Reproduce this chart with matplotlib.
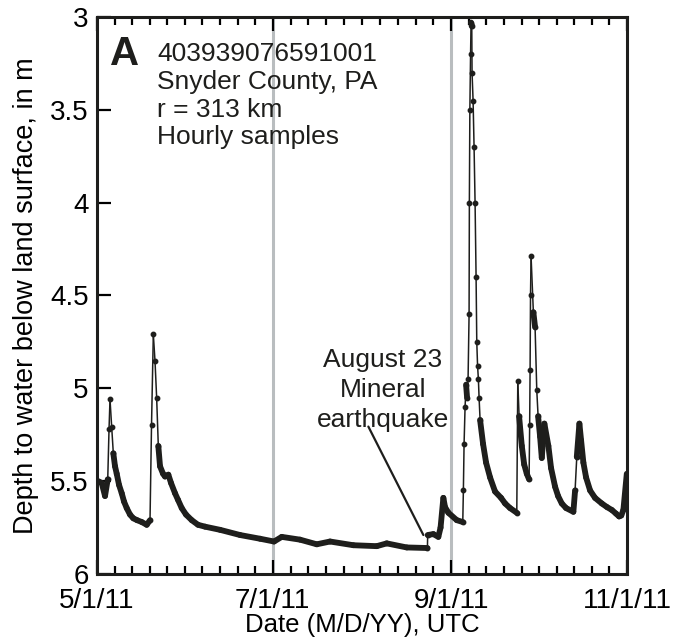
import numpy as np
import matplotlib
matplotlib.use("Agg")
import matplotlib.pyplot as plt
import matplotlib.dates as mdates
from matplotlib.collections import LineCollection
from datetime import datetime

plt.rcParams['font.family'] = ['Liberation Sans', 'DejaVu Sans']

# well 403939076591001, depth to water (m)
# time as days after 2011-05-01 00:00 UTC
day_offset = [
    0.45, 1.63, 2.78, 3.72, 4.17, 4.51, 5.10, 5.66, 6.25, 6.84,
    7.64, 8.58, 9.38, 10.31, 11.46, 12.60, 13.89, 15.52, 17.26, 18.40,
    18.92, 19.55, 20.14, 20.70, 21.28, 21.88, 22.92, 23.61, 24.76, 25.70,
    27.08, 28.10, 29.41, 30.90, 32.88, 35.07, 37.5, 42.7, 49.65, 56.6,
    61.46, 64.13, 70.49, 76.28, 80.90, 89.0, 97.12, 100.59, 107.53, 114.70,
    114.80, 116.77, 118.5, 119.27, 120.24, 120.83, 121.98, 124.9, 126.98, 127.19,
    127.43, 127.78, 128.13, 128.47, 128.82, 129.17, 129.27, 129.44, 129.69, 129.86,
    130.10, 130.20, 130.56, 130.90, 131.25, 131.60, 131.84, 132.12, 132.40, 132.64,
    132.99, 134.03, 135.07, 136.46, 138.19, 140.28, 141.67, 143.40, 145.73, 146.08,
    146.53, 147.47, 148.30, 149.2, 150.0, 150.2, 150.35, 150.5, 150.69, 151.49,
    152.08, 152.67, 153.13, 153.82, 154.41, 155.31, 156.7, 157.64, 159.03, 160.07,
    161.35, 162.85, 165.38, 165.97, 166.56, 167.47, 168.06, 168.85, 169.79, 171.18,
    172.90, 175.24, 177.08, 178.72, 180.20, 181.25, 182.00, 182.74, 183.92,
]
depth_m = [
    5.50, 5.51, 5.58, 5.49, 5.22, 5.06, 5.21, 5.35, 5.42, 5.46,
    5.52, 5.565, 5.61, 5.645, 5.68, 5.70, 5.71, 5.72, 5.735, 5.71,
    5.20, 4.71, 4.855, 5.05, 5.31, 5.42, 5.46, 5.475, 5.465, 5.51,
    5.565, 5.60, 5.645, 5.68, 5.71, 5.735, 5.745, 5.762, 5.79, 5.81,
    5.825, 5.80, 5.815, 5.84, 5.825, 5.845, 5.85, 5.835, 5.857, 5.86,
    5.79, 5.785, 5.80, 5.75, 5.59, 5.64, 5.67, 5.71, 5.72, 5.55,
    5.30, 5.10, 4.98, 5.05, 4.95, 4.60, 4.00, 3.50, 3.20, 3.03,
    3.05, 3.30, 3.45, 3.70, 4.00, 4.40, 4.75, 4.88, 4.95, 5.05,
    5.17, 5.30, 5.40, 5.48, 5.556, 5.59, 5.62, 5.645, 5.67, 4.96,
    5.15, 5.31, 5.41, 5.46, 5.49, 5.20, 4.90, 4.50, 4.29, 4.59,
    4.67, 5.01, 5.15, 5.26, 5.375, 5.19, 5.31, 5.43, 5.53, 5.58,
    5.62, 5.645, 5.665, 5.55, 5.37, 5.19, 5.28, 5.40, 5.48, 5.55,
    5.59, 5.62, 5.64, 5.655, 5.675, 5.69, 5.685, 5.655, 5.46,
]

start = mdates.date2num(datetime(2011, 5, 1))
major_dates = [datetime(2011, 5, 1), datetime(2011, 7, 1),
               datetime(2011, 9, 1), datetime(2011, 11, 1)]
major_labels = ['5/1/11', '7/1/11', '9/1/11', '11/1/11']
marker_dates = [datetime(2011, 7, 1), datetime(2011, 9, 1)]
quake_day = 113.3
quake_depth = 5.79

t = start + np.array(day_offset)
d = np.array(depth_m)

fig = plt.figure(figsize=(6.91, 6.38), dpi=100)
ax = fig.add_axes([0.1404, 0.1003, 0.7670, 0.8731])

for md in marker_dates:
    ax.axvline(mdates.date2num(md), color='#b9bdbf', lw=2.2, zorder=1)

# hourly samples pile up into a thick band where the level changes slowly
pts = np.column_stack([t, d])
segs = np.stack([pts[:-1], pts[1:]], axis=1)
slope = np.abs(np.diff(d) * 185.7) / (np.diff(t) * 2.88)
widths = np.where(slope > 14, 1.1, 4.2)
lc = LineCollection(segs, colors='#1e1e1c', linewidths=widths,
                    capstyle='round', joinstyle='round', zorder=3)
ax.add_collection(lc)
steep = np.zeros(len(d), bool)
steep[:-1] |= slope > 14
steep[1:] |= slope > 14
ax.plot(t[steep], d[steep], 'o', color='#1e1e1c', ms=3.2, zorder=4)

ax.set_xlim(mdates.date2num(major_dates[0]), mdates.date2num(major_dates[-1]))
ax.set_ylim(6, 3)

maj = [mdates.date2num(m) for m in major_dates]
ax.set_xticks(maj)
ax.set_xticklabels(major_labels)
minor = []
for a, b in zip(maj[:-1], maj[1:]):
    minor.extend(np.linspace(a, b, 11)[1:-1])
ax.set_xticks(minor, minor=True)
ax.set_yticks([3, 3.5, 4, 4.5, 5, 5.5, 6])
ax.set_yticklabels(['3', '3.5', '4', '4.5', '5', '5.5', '6'])

ax.tick_params(axis='x', which='both', direction='in', top=True, bottom=True,
               labelsize=20, pad=10, width=1.6)
ax.tick_params(axis='y', which='both', direction='in', left=True, right=False,
               labelsize=20, pad=6, width=1.6)
ax.tick_params(which='major', length=10)
ax.tick_params(which='minor', length=6)
for s in ax.spines.values():
    s.set_linewidth(2.2)
    s.set_color('#1e1e1c')

ax.set_xlabel('Date (M/D/YY), UTC', fontsize=18.5, labelpad=-1)
ax.set_ylabel('Depth to water below land surface, in m', fontsize=19.5, labelpad=8)

ax.text(0.024, 0.968, 'A', transform=ax.transAxes, fontsize=29,
        fontweight='bold', va='top', ha='left', color='#1e1e1c')
ax.text(0.113, 0.955, '403939076591001\nSnyder County, PA\nr = 313 km\nHourly samples',
        transform=ax.transAxes, fontsize=19, va='top', ha='left',
        linespacing=1.2, color='#1e1e1c')

ax.text(start + 99.3, 5.01, 'August 23\nMineral\nearthquake', fontsize=19,
        ha='center', va='center', linespacing=1.3, color='#1e1e1c')
ax.annotate('', xy=(start + quake_day, quake_depth), xytext=(start + 94.2, 5.206),
            arrowprops=dict(arrowstyle='-', lw=1.6, color='#1e1e1c',
                            shrinkA=0, shrinkB=0))

fig.savefig('out.png', dpi=100)
